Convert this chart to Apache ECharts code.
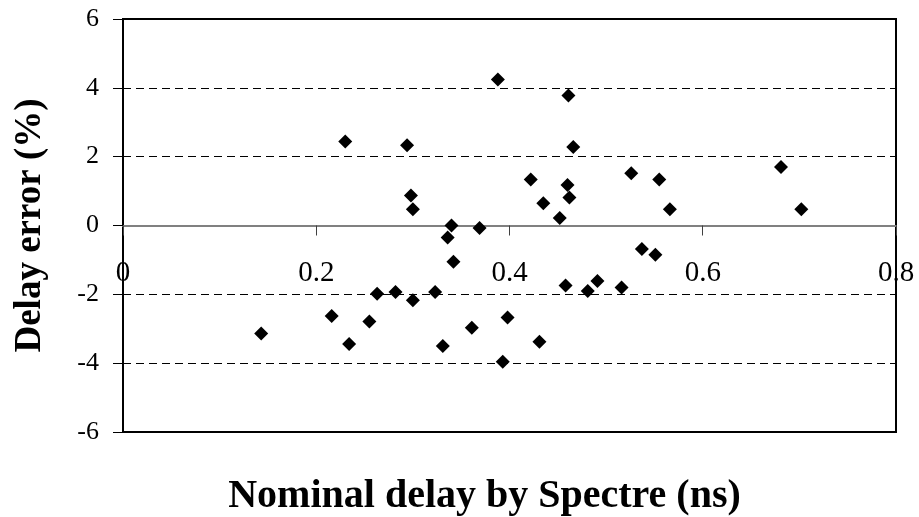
<!DOCTYPE html>
<html>
<head>
<meta charset="utf-8">
<script src="https://cdn.jsdelivr.net/npm/echarts@6/dist/echarts.min.js"></script>
<style>
html,body{margin:0;padding:0;background:#fff;}
#chart{width:919px;height:517px;}
</style>
</head>
<body>
<div id="chart"></div>
<script>
// Nominal delay by Spectre (ns)
const nominalDelay = [0.143,0.216,0.230,0.234,0.255,0.263,0.282,0.294,0.298,0.300,
  0.300,0.323,0.331,0.336,0.340,0.342,0.361,0.369,0.388,0.393,
  0.398,0.422,0.431,0.435,0.452,0.458,0.460,0.461,0.462,0.466,
  0.481,0.491,0.516,0.526,0.537,0.551,0.555,0.566,0.681,0.702];
// Delay error (%)
const delayError = [-3.14,-2.63,2.44,-3.44,-2.79,-1.98,-1.93,2.33,0.87,0.47,
  -2.17,-1.93,-3.50,-0.35,0.00,-1.05,-2.97,-0.07,4.24,-3.96,
  -2.67,1.34,-3.38,0.65,0.22,-1.74,1.18,3.78,0.81,2.28,
  -1.90,-1.61,-1.80,1.52,-0.68,-0.85,1.34,0.47,1.70,0.47];
const xTicks = {min:0, max:0.8, interval:0.2};
const yTicks = {min:-6, max:6, interval:2};
const xTitle = 'Nominal delay by Spectre (ns)';
const yTitle = 'Delay error (%)';

const points = nominalDelay.map((x,i)=>[x, delayError[i]]);
const serif = '"Liberation Serif","Times New Roman",serif';

const chart = echarts.init(document.getElementById('chart'));
chart.setOption({
  animation:false,
  backgroundColor:'#fff',
  grid:{left:123,right:23,top:19,bottom:85,containLabel:false,outerBoundsMode:'none',
    show:true,borderColor:'#000',borderWidth:2,backgroundColor:'transparent'},
  xAxis:{
    type:'value', min:xTicks.min, max:xTicks.max, interval:xTicks.interval,
    axisLine:{onZero:true,lineStyle:{color:'#808080',width:2}},
    axisTick:{show:true,inside:false,length:10,lineStyle:{color:'#404040',width:1}},
    axisLabel:{margin:-173,color:'#000',fontFamily:serif,fontSize:29,showMinLabel:true,showMaxLabel:true,
      hideOverlap:false, formatter:v=>String(+v.toFixed(1))},
    splitLine:{show:false},
    name:xTitle, nameLocation:'middle', nameGap:45,
    nameTextStyle:{fontFamily:serif,fontWeight:'bold',fontSize:40,color:'#000',padding:[0,50,0,0]}
  },
  yAxis:{
    type:'value', min:yTicks.min, max:yTicks.max, interval:yTicks.interval,
    axisLine:{onZero:false,lineStyle:{color:'#000',width:2}},
    axisTick:{show:true,inside:false,length:10,lineStyle:{color:'#000',width:1}},
    axisLabel:{margin:24,color:'#000',fontFamily:serif,fontSize:26},
    splitLine:{show:true,lineStyle:{color:'#000',width:1,type:[8,5]}},
    name:yTitle, nameLocation:'middle', nameGap:74, nameRotate:90,
    nameTextStyle:{fontFamily:serif,fontWeight:'bold',fontSize:37,color:'#000'}
  },
  series:[{
    type:'scatter', data:points, symbol:'diamond', symbolSize:14,
    itemStyle:{color:'#000',opacity:1}, z:5
  }]
});
</script>
</body>
</html>
